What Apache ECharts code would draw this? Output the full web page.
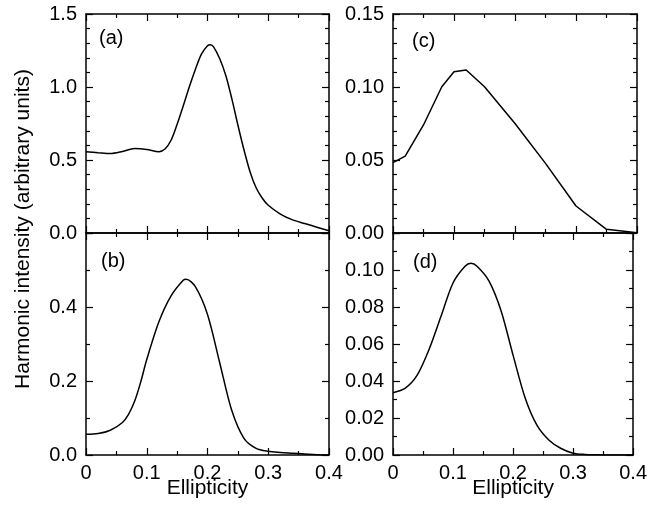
<!DOCTYPE html>
<html>
<head>
<meta charset="utf-8">
<script src="https://cdn.jsdelivr.net/npm/echarts@6/dist/echarts.min.js"></script>
<style>html,body{margin:0;padding:0;background:#fff}#c{width:650px;height:506px}</style>
</head>
<body>
<div id="c"></div>
<script>
// ---- data ----
var xA = [0, 0.02, 0.04, 0.06, 0.08, 0.10, 0.12, 0.13, 0.14, 0.15, 0.16, 0.17, 0.18, 0.19, 0.20, 0.205, 0.21, 0.22, 0.23, 0.24, 0.25, 0.26, 0.27, 0.28, 0.29, 0.30, 0.32, 0.34, 0.36, 0.38, 0.40];
var yA = [0.557, 0.55, 0.544, 0.558, 0.578, 0.572, 0.557, 0.575, 0.635, 0.745, 0.87, 1.0, 1.12, 1.225, 1.283, 1.29, 1.275, 1.195, 1.08, 0.92, 0.74, 0.57, 0.42, 0.31, 0.24, 0.19, 0.13, 0.09, 0.065, 0.04, 0.015];

var xB = [0, 0.02, 0.04, 0.06, 0.07, 0.08, 0.09, 0.10, 0.12, 0.14, 0.16, 0.165, 0.18, 0.20, 0.22, 0.24, 0.26, 0.28, 0.30, 0.32, 0.34, 0.36, 0.38, 0.40];
var yB = [0.056, 0.058, 0.067, 0.088, 0.11, 0.145, 0.197, 0.258, 0.36, 0.43, 0.472, 0.475, 0.455, 0.38, 0.25, 0.12, 0.045, 0.018, 0.01, 0.007, 0.005, 0.003, 0.001, 0.0];

var xC = [0, 0.02, 0.05, 0.08, 0.10, 0.12, 0.15, 0.20, 0.25, 0.30, 0.35, 0.40];
var yC = [0.0482, 0.0527, 0.074, 0.1002, 0.1105, 0.1116, 0.1002, 0.075, 0.0477, 0.0185, 0.0025, 0.0002];

var xD = [0, 0.02, 0.04, 0.06, 0.08, 0.10, 0.12, 0.13, 0.14, 0.16, 0.18, 0.20, 0.22, 0.24, 0.26, 0.28, 0.30, 0.32, 0.34, 0.36, 0.40];
var yD = [0.0337, 0.036, 0.043, 0.057, 0.075, 0.093, 0.102, 0.1036, 0.102, 0.094, 0.078, 0.054, 0.031, 0.016, 0.008, 0.0035, 0.001, 0.0003, 0.0001, 0, 0];

var panelLabels = ['(a)', '(b)', '(c)', '(d)'];
var xName = 'Ellipticity';
var yName = 'Harmonic intensity (arbitrary units)';

// ---- chart ----
function pairs(xs, ys) { return xs.map(function (x, i) { return [x, ys[i]]; }); }
var FONT = 'Liberation Sans, Arial, sans-serif';
var grids = [
  {left: 86, top: 14, width: 243, height: 219},
  {left: 86, top: 233, width: 243, height: 222},
  {left: 393, top: 14, width: 244, height: 219},
  {left: 393, top: 233, width: 244, height: 222}
];
var yCfg = [
  {max: 1.5, interval: 0.5, split: 5, dec: 1, hideMax: false},
  {max: 0.6, interval: 0.2, split: 2, dec: 1, hideMax: true},
  {max: 0.15, interval: 0.05, split: 5, dec: 2, hideMax: false},
  {max: 0.12, interval: 0.02, split: 2, dec: 2, hideMax: true}
];
var lineStyle = {color: '#000', width: 1.5};
var xAxes = [], yAxes = [];
grids.forEach(function (g, i) {
  var bottomPanel = (i === 1 || i === 3);
  ['bottom', 'top'].forEach(function (pos) {
    var showLab = bottomPanel && pos === 'bottom';
    xAxes.push({
      type: 'value', gridIndex: i, position: pos, min: 0, max: 0.4, interval: 0.1,
      name: showLab ? xName : '', nameLocation: 'middle', nameGap: 23, nameMoveOverlap: false,
      nameTextStyle: {fontFamily: FONT, fontSize: 21, color: '#000', verticalAlign: 'top'},
      axisLine: {show: true, onZero: false, lineStyle: lineStyle},
      axisTick: {show: true, inside: true, length: 7, lineStyle: {color: '#000', width: 1.2}},
      minorTick: {show: true, splitNumber: 2, length: 4, lineStyle: {color: '#000', width: 1.2}},
      splitLine: {show: false}, minorSplitLine: {show: false},
      axisLabel: {show: showLab, margin: 8, fontFamily: FONT, fontSize: 20, color: '#000',
        formatter: function (v) { return v === 0 ? '0' : v.toFixed(1); }}
    });
  });
  var c = yCfg[i];
  ['left', 'right'].forEach(function (pos) {
    var showLab = pos === 'left';
    yAxes.push({
      type: 'value', gridIndex: i, position: pos, min: 0, max: c.max, interval: c.interval,
      axisLine: {show: true, onZero: false, lineStyle: lineStyle},
      axisTick: {show: true, inside: true, length: 7, lineStyle: {color: '#000', width: 1.2}},
      minorTick: {show: true, splitNumber: c.split, length: 4, lineStyle: {color: '#000', width: 1.2}},
      splitLine: {show: false}, minorSplitLine: {show: false},
      axisLabel: {show: showLab, margin: 9, showMaxLabel: !c.hideMax, fontFamily: FONT, fontSize: 20, color: '#000',
        formatter: function (v) { return v.toFixed(c.dec); }}
    });
  });
});
var datasets = [pairs(xA, yA), pairs(xB, yB), pairs(xC, yC), pairs(xD, yD)];
var smoothFlags = [true, true, false, true];
var series = datasets.map(function (d, i) {
  return {
    type: 'line', xAxisIndex: i * 2, yAxisIndex: i * 2, data: d,
    smooth: smoothFlags[i] ? 0.3 : false, showSymbol: false, symbol: 'none',
    lineStyle: {color: '#000', width: 1.5}, animation: false, z: 1
  };
});
var labelPos = [[99, 39], [101, 262], [412, 42], [413, 263]];
var graphic = labelPos.map(function (p, i) {
  return {type: 'text', left: p[0], top: p[1] - 11, style: {text: panelLabels[i], font: '20px ' + FONT, fill: '#000'}};
});
graphic.push({type: 'text', x: 23, y: 229, rotation: Math.PI / 2,
  style: {text: yName, font: '21px ' + FONT, fill: '#000', align: 'center', verticalAlign: 'middle'}});

var chart = echarts.init(document.getElementById('c'), null, {renderer: 'canvas'});
chart.setOption({
  animation: false,
  grid: grids,
  xAxis: xAxes,
  yAxis: yAxes,
  series: series,
  graphic: graphic
});
</script>
</body>
</html>
